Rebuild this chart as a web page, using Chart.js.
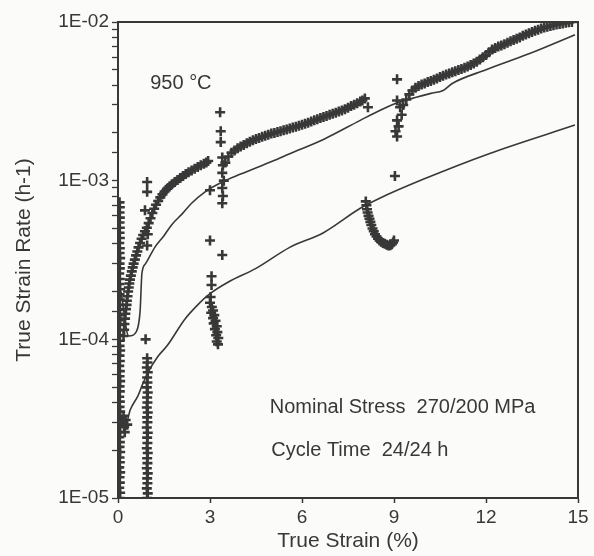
<!DOCTYPE html>
<html lang="en">
  <head>
    <meta charset="UTF-8" />
    <title>True strain rate vs true strain</title>
    <script src="https://cdn.jsdelivr.net/npm/chart.js@4.4.1/dist/chart.umd.min.js"></script>
    <style>
      html, body { margin: 0; padding: 0; background: #fbfbf9; }
      #chart { display: block; }
    </style>
  </head>
  <body>
    <canvas id="chart" width="594" height="556"></canvas>

    <script>
      //data : [true strain %, true strain rate h-1]
      const colAtZero = [
        [0.05, 1.0e-5], [0.07, 1.08e-5], [0.04, 1.16e-5], [0.06, 1.25e-5], [0.05, 1.35e-5], [0.07, 1.45e-5],
        [0.04, 1.56e-5], [0.06, 1.68e-5], [0.05, 1.8e-5], [0.07, 1.95e-5], [0.05, 2.1e-5], [0.06, 2.25e-5],
        [0.04, 2.42e-5], [0.07, 2.6e-5], [0.05, 2.8e-5], [0.08, 3.0e-5], [0.05, 3.25e-5], [0.07, 3.5e-5],
        [0.05, 3.75e-5], [0.06, 4.05e-5], [0.04, 4.35e-5], [0.06, 4.7e-5], [0.05, 5.05e-5], [0.07, 5.45e-5],
        [0.05, 5.85e-5], [0.06, 6.3e-5], [0.04, 6.8e-5], [0.06, 7.3e-5], [0.05, 7.9e-5], [0.07, 8.5e-5],
        [0.05, 9.1e-5], [0.06, 9.8e-5], [0.04, 1.06e-4], [0.06, 1.14e-4], [0.05, 1.23e-4], [0.07, 1.32e-4],
        [0.05, 1.42e-4], [0.06, 1.53e-4], [0.04, 1.65e-4], [0.06, 1.78e-4], [0.05, 1.92e-4], [0.07, 2.07e-4],
        [0.05, 2.23e-4], [0.06, 2.4e-4], [0.04, 2.6e-4], [0.06, 2.8e-4], [0.05, 3.0e-4], [0.07, 3.25e-4],
        [0.05, 3.5e-4], [0.06, 3.75e-4], [0.04, 4.05e-4], [0.06, 4.35e-4], [0.05, 4.7e-4], [0.06, 5.05e-4],
        [0.05, 5.45e-4], [0.06, 5.85e-4], [0.05, 6.3e-4], [0.06, 6.8e-4], [0.05, 7.3e-4],
        [0.14, 3.0e-5], [0.2, 2.8e-5], [0.25, 3.1e-5], [0.3, 2.9e-5], [0.18, 3.3e-5], [0.22, 2.6e-5]
      ];
      const firstLoad = [
        [0.18, 1.05e-4], [0.2, 1.15e-4], [0.21, 1.25e-4], [0.23, 1.35e-4], [0.24, 1.45e-4], [0.26, 1.55e-4],
        [0.28, 1.65e-4], [0.29, 1.75e-4], [0.31, 1.87e-4], [0.33, 2.0e-4], [0.35, 2.12e-4], [0.37, 2.25e-4],
        [0.39, 2.38e-4], [0.42, 2.52e-4], [0.45, 2.68e-4], [0.48, 2.84e-4], [0.51, 3.0e-4], [0.55, 3.18e-4],
        [0.59, 3.38e-4], [0.63, 3.58e-4], [0.67, 3.8e-4], [0.72, 4.05e-4], [0.77, 4.3e-4], [0.82, 4.55e-4],
        [0.88, 4.8e-4], [0.94, 5.05e-4], [1.0, 5.4e-4], [1.06, 5.8e-4], [1.12, 6.25e-4], [1.18, 6.65e-4],
        [1.24, 7.05e-4], [1.31, 7.45e-4], [1.38, 7.85e-4], [1.45, 8.2e-4], [1.52, 8.55e-4], [1.6, 8.9e-4],
        [1.68, 9.2e-4], [1.76, 9.5e-4], [1.85, 9.8e-4], [1.94, 1.01e-3], [2.03, 1.04e-3], [2.12, 1.07e-3],
        [2.21, 1.1e-3], [2.3, 1.13e-3], [2.4, 1.16e-3], [2.5, 1.19e-3], [2.6, 1.22e-3], [2.7, 1.25e-3],
        [2.8, 1.28e-3], [2.88, 1.3e-3], [2.94, 1.33e-3]
      ];
      const colAtOne = [
        [0.95, 1.0e-5], [0.97, 1.07e-5], [0.94, 1.15e-5], [0.96, 1.24e-5], [0.95, 1.33e-5], [0.97, 1.43e-5],
        [0.94, 1.54e-5], [0.96, 1.66e-5], [0.95, 1.78e-5], [0.97, 1.92e-5], [0.94, 2.06e-5], [0.96, 2.22e-5],
        [0.95, 2.4e-5], [0.97, 2.58e-5], [0.94, 2.78e-5], [0.96, 3.0e-5], [0.95, 3.22e-5], [0.97, 3.46e-5],
        [0.94, 3.72e-5], [0.96, 4.0e-5], [0.95, 4.3e-5], [0.97, 4.62e-5], [0.94, 4.98e-5], [0.96, 5.35e-5],
        [0.95, 5.75e-5], [0.97, 6.2e-5], [0.94, 6.65e-5], [0.96, 7.15e-5], [0.95, 7.6e-5],
        [0.9, 1.0e-4], [0.95, 3.9e-4], [0.97, 4.6e-4], [0.88, 6.5e-4], [0.95, 8.5e-4], [0.95, 9.8e-4]
      ];
      const nearThree = [
        [3.0, 8.7e-4], [3.33, 2.7e-3], [3.35, 2.05e-3], [3.35, 1.75e-3], [3.4, 1.4e-3], [3.42, 1.25e-3],
        [3.4, 1.12e-3], [3.45, 1.0e-3], [3.4, 9.0e-4], [3.42, 8.0e-4], [3.4, 7.2e-4], [3.0, 4.2e-4],
        [3.4, 3.4e-4], [3.05, 2.5e-4], [3.05, 2.2e-4], [3.02, 1.85e-4], [3.0, 1.7e-4], [3.06, 1.6e-4],
        [3.1, 1.52e-4], [3.04, 1.47e-4], [3.14, 1.42e-4], [3.1, 1.36e-4], [3.18, 1.31e-4], [3.12, 1.26e-4],
        [3.22, 1.21e-4], [3.16, 1.16e-4], [3.24, 1.11e-4], [3.2, 1.06e-4], [3.27, 1.02e-4], [3.22, 9.7e-5],
        [3.26, 9.3e-5]
      ];
      const secondLoad = [
        [3.5, 1.3e-3], [3.6, 1.42e-3], [3.7, 1.5e-3], [3.8, 1.55e-3], [3.9, 1.6e-3], [4.0, 1.64e-3],
        [4.1, 1.68e-3], [4.2, 1.72e-3], [4.3, 1.76e-3], [4.4, 1.8e-3], [4.5, 1.83e-3], [4.6, 1.86e-3],
        [4.7, 1.89e-3], [4.8, 1.92e-3], [4.9, 1.95e-3], [5.0, 1.98e-3], [5.1, 2.0e-3], [5.2, 2.03e-3],
        [5.3, 2.05e-3], [5.4, 2.08e-3], [5.5, 2.1e-3], [5.6, 2.13e-3], [5.7, 2.16e-3], [5.8, 2.19e-3],
        [5.9, 2.22e-3], [6.0, 2.25e-3], [6.1, 2.28e-3], [6.2, 2.32e-3], [6.3, 2.36e-3], [6.4, 2.4e-3],
        [6.5, 2.44e-3], [6.6, 2.48e-3], [6.7, 2.52e-3], [6.8, 2.56e-3], [6.9, 2.6e-3], [7.0, 2.64e-3],
        [7.1, 2.68e-3], [7.2, 2.73e-3], [7.3, 2.77e-3], [7.4, 2.82e-3], [7.5, 2.88e-3], [7.6, 2.95e-3],
        [7.7, 3.01e-3], [7.8, 3.08e-3], [7.9, 3.15e-3], [7.97, 3.2e-3], [8.05, 3.3e-3], [8.15, 2.9e-3]
      ];
      const nearEight = [
        [8.08, 7.4e-4], [8.1, 7.0e-4], [8.12, 6.6e-4], [8.14, 6.3e-4], [8.17, 6.0e-4], [8.2, 5.75e-4],
        [8.23, 5.5e-4], [8.26, 5.25e-4], [8.3, 5.0e-4], [8.34, 4.8e-4], [8.38, 4.6e-4], [8.43, 4.45e-4],
        [8.48, 4.3e-4], [8.53, 4.2e-4], [8.58, 4.12e-4], [8.64, 4.05e-4], [8.7, 4.0e-4], [8.76, 3.95e-4],
        [8.82, 3.9e-4], [8.88, 3.92e-4], [8.93, 3.98e-4], [8.97, 4.08e-4], [9.0, 4.2e-4], [9.03, 1.07e-3]
      ];
      const nearNine = [
        [9.1, 4.35e-3], [9.1, 3.2e-3], [9.2, 2.9e-3], [9.25, 2.6e-3], [9.1, 2.4e-3], [9.15, 2.2e-3],
        [9.05, 2.05e-3], [9.1, 1.9e-3]
      ];
      const thirdLoad = [
        [9.3, 3.0e-3], [9.4, 3.25e-3], [9.5, 3.5e-3], [9.6, 3.7e-3], [9.7, 3.85e-3], [9.8, 3.95e-3],
        [9.9, 4.03e-3], [10.0, 4.1e-3], [10.1, 4.18e-3], [10.2, 4.25e-3], [10.3, 4.32e-3], [10.4, 4.4e-3],
        [10.5, 4.5e-3], [10.6, 4.58e-3], [10.7, 4.66e-3], [10.8, 4.74e-3], [10.9, 4.82e-3], [11.0, 4.9e-3],
        [11.1, 4.98e-3], [11.2, 5.06e-3], [11.3, 5.14e-3], [11.4, 5.24e-3], [11.5, 5.35e-3], [11.6, 5.48e-3],
        [11.7, 5.62e-3], [11.8, 5.8e-3], [11.9, 6.0e-3], [12.0, 6.2e-3], [12.1, 6.45e-3], [12.2, 6.7e-3],
        [12.3, 6.85e-3], [12.4, 7.0e-3], [12.5, 7.12e-3], [12.6, 7.25e-3], [12.7, 7.4e-3], [12.8, 7.55e-3],
        [12.9, 7.7e-3], [13.0, 7.85e-3], [13.1, 8.0e-3], [13.2, 8.2e-3], [13.3, 8.35e-3], [13.4, 8.5e-3],
        [13.5, 8.65e-3], [13.6, 8.8e-3], [13.7, 8.95e-3], [13.8, 9.1e-3], [13.9, 9.22e-3], [14.0, 9.35e-3],
        [14.1, 9.45e-3], [14.2, 9.55e-3], [14.3, 9.65e-3], [14.4, 9.72e-3], [14.5, 9.8e-3], [14.6, 9.88e-3],
        [14.7, 9.95e-3], [14.8, 1.0e-2]
      ];
      const upperCurve = [
        [0.1, 2.0e-4], [0.35, 1.05e-4], [0.6, 1.12e-4], [0.72, 1.5e-4], [0.78, 2.6e-4], [0.9, 3.0e-4],
        [1.2, 3.8e-4], [1.5, 4.5e-4], [1.76, 5.3e-4], [2.1, 6.2e-4], [2.4, 7.2e-4], [2.84, 8.5e-4],
        [3.4, 9.8e-4], [4.0, 1.1e-3], [5.05, 1.33e-3], [5.6, 1.48e-3], [6.7, 1.82e-3], [7.9, 2.4e-3],
        [8.5, 2.75e-3], [9.1, 3.1e-3], [9.6, 3.3e-3], [10.2, 3.55e-3], [10.6, 3.7e-3], [10.9, 4.1e-3],
        [12.0, 5.0e-3], [13.4, 6.3e-3], [14.9, 8.3e-3]
      ];
      const lowerCurve = [
        [0.1, 3.2e-5], [0.25, 2.9e-5], [0.4, 3.6e-5], [0.65, 4.4e-5], [0.8, 5.2e-5], [0.98, 6.2e-5],
        [1.3, 7.8e-5], [1.6, 9.1e-5], [2.18, 1.34e-4], [2.6, 1.65e-4], [3.0, 1.94e-4], [3.6, 2.3e-4],
        [4.5, 2.8e-4], [5.6, 3.8e-4], [6.7, 4.7e-4], [7.9, 6.7e-4], [8.5, 7.7e-4], [9.95, 1.02e-3],
        [12.1, 1.48e-3], [14.9, 2.24e-3]
      ];
      const xTicks = [0, 3, 6, 9, 12, 15];
      const notes = [
        { text: '950 °C', x: 1.05, y: 4.1e-3 },
        { text: 'Nominal Stress  270/200 MPa', x: 4.95, y: 3.7e-5 },
        { text: 'Cycle Time  24/24 h', x: 5.0, y: 2.0e-5 }
      ];

      const INK = '#383838';
      const FONT = '"Liberation Sans", Arial, sans-serif';
      const toXY = (arr) => arr.map(([x, y]) => ({ x: x, y: y }));
      const measured = [].concat(colAtZero, firstLoad, colAtOne, nearThree, secondLoad, nearEight, nearNine, thirdLoad);

      //plugins
      const frame = {
        id: 'frame',
        afterDatasetsDraw(chart) {
          const { ctx, chartArea: a } = chart;
          ctx.save();
          ctx.strokeStyle = INK;
          ctx.lineWidth = 2;
          ctx.strokeRect(a.left, a.top, a.right - a.left, a.bottom - a.top);
          ctx.restore();
        }
      };
      const labels = {
        id: 'labels',
        afterDraw(chart) {
          const { ctx, scales } = chart;
          ctx.save();
          ctx.fillStyle = INK;
          ctx.font = '20px ' + FONT;
          ctx.textBaseline = 'middle';
          ctx.textAlign = 'left';
          notes.forEach((n) => {
            ctx.fillText(n.text, scales.x.getPixelForValue(n.x), scales.y.getPixelForValue(n.y));
          });
          ctx.restore();
        }
      };

      //config
      const config = {
        type: 'scatter',
        data: {
          datasets: [
            {
              label: 'measured',
              data: toXY(measured),
              pointStyle: 'cross',
              pointRadius: 5,
              borderWidth: 2.6,
              borderColor: INK,
              backgroundColor: INK
            },
            {
              label: 'upper',
              type: 'line',
              data: toXY(upperCurve),
              borderColor: INK,
              borderWidth: 1.6,
              pointRadius: 0,
              cubicInterpolationMode: 'monotone'
            },
            {
              label: 'lower',
              type: 'line',
              data: toXY(lowerCurve),
              borderColor: INK,
              borderWidth: 1.6,
              pointRadius: 0,
              cubicInterpolationMode: 'monotone'
            }
          ]
        },
        options: {
          responsive: false,
          animation: false,
          devicePixelRatio: 1,
          layout: { padding: { top: 22, right: 16, left: 0, bottom: 0 } },
          plugins: { legend: { display: false }, tooltip: { enabled: false } },
          scales: {
            x: {
              type: 'linear',
              min: 0,
              max: 15,
              afterFit: (s) => { s.height = 58; },
              afterBuildTicks: (s) => { s.ticks = xTicks.map((v) => ({ value: v })); },
              border: { color: INK, width: 2 },
              grid: { drawOnChartArea: false, color: INK, tickLength: 5, tickWidth: 1.5 },
              ticks: { color: INK, padding: 3, font: { family: FONT, size: 19 } },
              title: {
                display: true,
                text: 'True Strain (%)',
                color: INK,
                padding: { top: 0, bottom: 2 },
                font: { family: FONT, size: 21 }
              }
            },
            y: {
              type: 'logarithmic',
              min: 1e-5,
              max: 1e-2,
              afterFit: (s) => { s.width = 118; },
              border: { color: INK, width: 2 },
              grid: { drawOnChartArea: false, color: INK, tickLength: 6, tickWidth: 1.3 },
              ticks: {
                autoSkip: false,
                color: INK,
                padding: 3,
                font: { family: FONT, size: 19 },
                callback: function (v) {
                  const e = Math.log10(v);
                  if (Math.abs(e - Math.round(e)) > 1e-6) return '';
                  return '1E-0' + (-Math.round(e));
                }
              },
              title: {
                display: true,
                text: 'True Strain Rate (h-1)',
                color: INK,
                padding: { top: 12, bottom: 0 },
                font: { family: FONT, size: 21 }
              }
            }
          }
        },
        plugins: [frame, labels]
      };

      //init
      const chart = new Chart(document.getElementById('chart'), config);
    </script>
  </body>
</html>
